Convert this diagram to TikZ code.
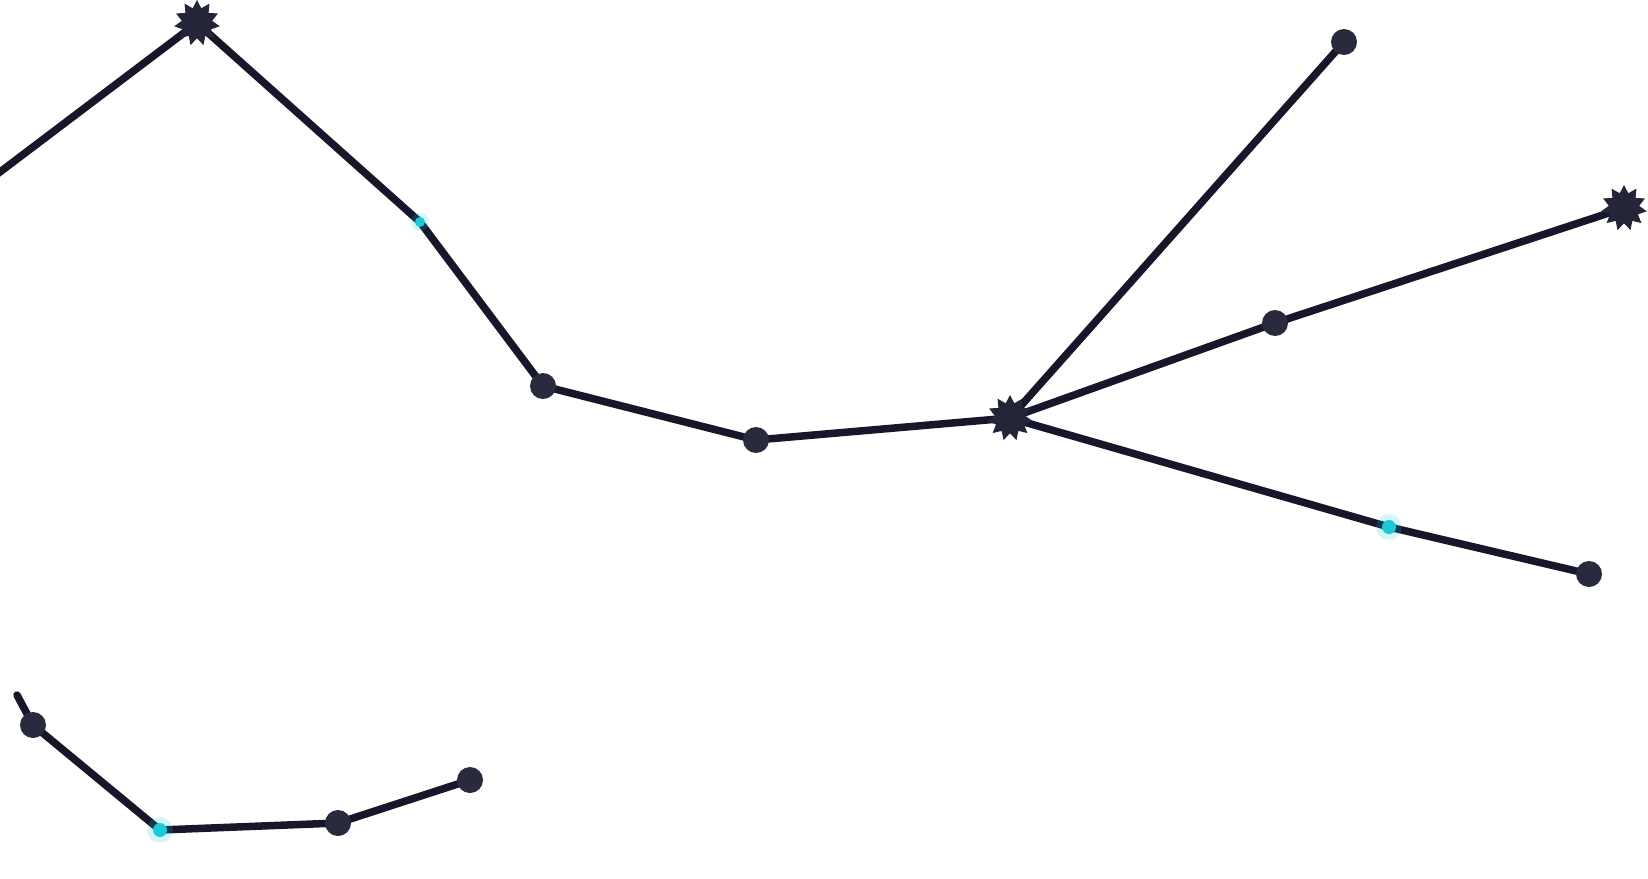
\documentclass[tikz,border=0pt]{standalone}
\usetikzlibrary{shapes.geometric,backgrounds}
\definecolor{edgec}{HTML}{17172B}
\definecolor{dotc}{HTML}{2A2A3E}
\definecolor{starc}{HTML}{25253A}
\definecolor{glowc}{HTML}{19CAD8}
\tikzset{
  edge/.style={draw=edgec, line width=7.5pt, line cap=round},
  dotnode/.style={circle, fill=dotc, inner sep=0pt, minimum size=26pt},
  starnode/.style={star, star points=11, star point ratio=1.5, fill=starc, inner sep=0pt, minimum size=46pt},
  glownode/.style={circle, fill=glowc, inner sep=0pt, minimum size=14pt},
  halo/.style={circle, fill=glowc, opacity=0.18, inner sep=0pt, minimum size=26pt},
}
\begin{document}
\begin{tikzpicture}[x=1pt,y=-1pt]
\useasboundingbox (0,0) rectangle (1648,878);
\clip (0,0) rectangle (1648,878);
% nodes
\coordinate (L0) at (-4,175);
\node[starnode] (S1) at (197,23) {};
\node[glownode, minimum size=10pt] (C1) at (420,222) {};
\node[dotnode] (D1) at (543,386) {};
\node[dotnode] (D2) at (756,440) {};
\node[starnode] (S2) at (1010,418) {};
\node[dotnode] (T) at (1344,42) {};
\node[dotnode] (D3) at (1275,323) {};
\node[starnode] (S3) at (1624,208) {};
\node[glownode] (C2) at (1389,527) {};
\node[dotnode] (D4) at (1589,574) {};
\coordinate (E) at (17,695);
\node[dotnode] (D5) at (33,725) {};
\node[glownode] (C3) at (160,830) {};
\node[dotnode] (D6) at (338,823) {};
\node[dotnode] (D7) at (470,780) {};
\begin{scope}[on background layer]
\draw[edge] (L0) -- (S1.center) -- (C1.center) -- (D1.center) -- (D2.center) -- (S2.center);
\draw[edge] (S2.center) -- (T.center);
\draw[edge] (S2.center) -- (D3.center) -- (S3.center);
\draw[edge] (S2.center) -- (C2.center) -- (D4.center);
\draw[edge] (E) -- (D5.center) -- (C3.center) -- (D6.center) -- (D7.center);
\node[halo, minimum size=18pt] at (C1) {};
\node[halo] at (C2) {};
\node[halo] at (C3) {};
\end{scope}
\end{tikzpicture}
\end{document}
